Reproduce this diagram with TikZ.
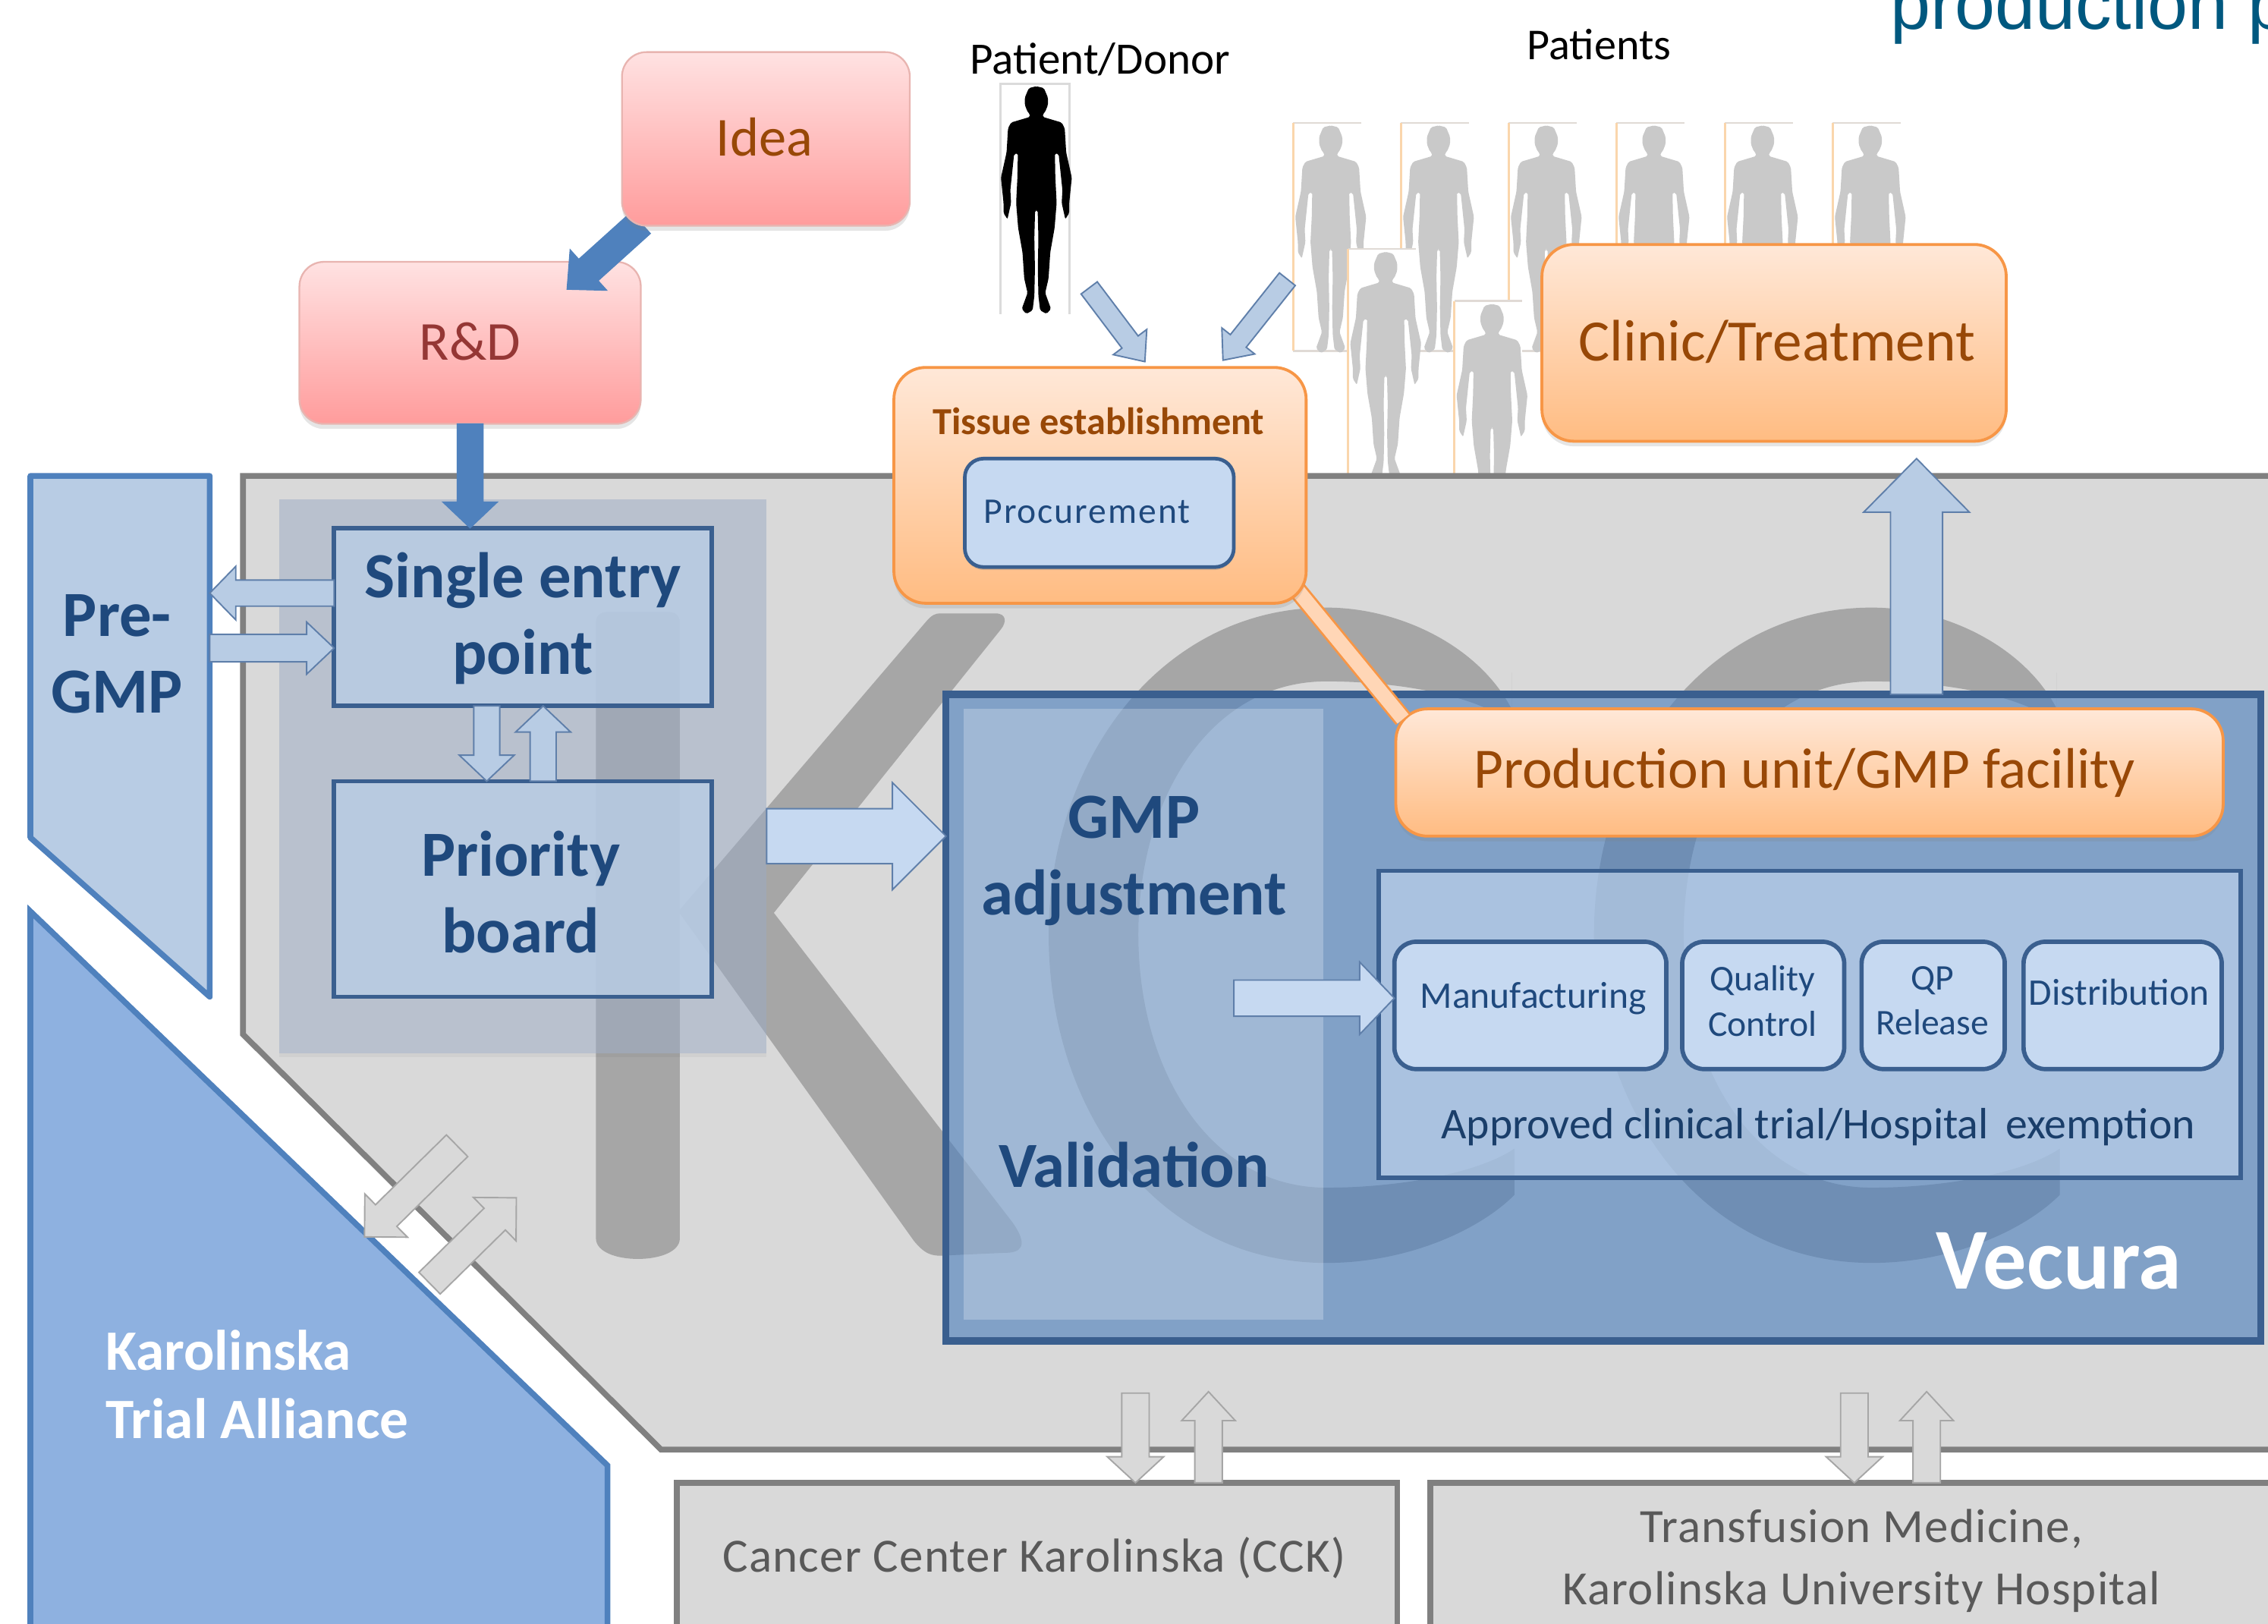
\documentclass[tikz,border=0pt]{standalone}
\usepackage{fontspec}
\setmainfont{Carlito}
\newfontfamily\arialfam{Liberation Sans}
\usetikzlibrary{calc,shadows}
\definecolor{navy}{HTML}{1F497D}
\definecolor{edgeblue}{HTML}{3A5F8F}
\definecolor{midblue}{HTML}{4F81BD}
\definecolor{paleblue}{HTML}{B8CCE4}
\definecolor{lightblue}{HTML}{C6D9F1}
\definecolor{arrowedge}{HTML}{5F7FAA}
\definecolor{brownish}{HTML}{984807}
\definecolor{orangeedge}{HTML}{F79646}
\definecolor{greyfill}{HTML}{D9D9D9}
\definecolor{greyedge}{HTML}{808080}
\definecolor{wmark}{HTML}{A6A6A6}
\definecolor{greytext}{HTML}{595959}
\definecolor{headingblue}{HTML}{00587F}
\definecolor{pinktop}{HTML}{FFE2E2}
\definecolor{pinkbot}{HTML}{FF9C9C}
\definecolor{pinkedge}{HTML}{E8B4B0}
\definecolor{orangetop}{HTML}{FFE8D8}
\definecolor{orangebot}{HTML}{FFBC82}
\definecolor{rdred}{HTML}{953735}
\definecolor{panelblue}{HTML}{9BABC5}
\definecolor{ktablue}{HTML}{8EB1E0}
\definecolor{frametop}{HTML}{E0DAD5}
\definecolor{frameside}{HTML}{FAD6AC}
\newcommand\fsz[2]{\fontsize{#1}{#2}\selectfont}
\newcommand\blockarrow[6]{%
  \coordinate (baA) at #2; \coordinate (baB) at #3;
  \coordinate (baN) at ($(baB)!#6pt!(baA)$);
  \pgfmathsetmacro\baw{#4/2}\pgfmathsetmacro\bah{#5/2}
  \path[#1] ($(baA)!\baw pt!90:(baB)$) -- ($(baN)!\baw pt!90:(baB)$) -- ($(baN)!\bah pt!90:(baB)$) -- (baB)
    -- ($(baN)!\bah pt!-90:(baB)$) -- ($(baN)!\baw pt!-90:(baB)$) -- ($(baA)!\baw pt!-90:(baB)$) -- cycle;
}
\tikzset{
  corners/.style n args={4}{minimum width={#3-#1}, minimum height={#4-#2}, at={({(#1+#3)/2},{(#2+#4)/2})}},
  anynode/.style={inner sep=0pt, outer sep=0pt, align=center, rectangle},
  softshadow/.style={drop shadow={opacity=.2, shadow xshift=0pt, shadow yshift=-3.5pt}},
  pinkbox/.style={anynode, rounded corners=17pt, draw=pinkedge, line width=1.2pt, top color=pinktop, bottom color=pinkbot, softshadow},
  orangebox/.style={anynode, rounded corners=22pt, draw=orangeedge, line width=2pt, top color=orangetop, bottom color=orangebot, softshadow},
  flatbox/.style={anynode, draw=edgeblue, line width=3pt, fill=paleblue, fill opacity=.85},
  boldlabel/.style={anynode, text=navy, font=\bfseries\fsz{44.5}{53}},
  brownlabel/.style={anynode, text=brownish},
  stepbox/.style={anynode, rounded corners=15pt, draw=edgeblue, line width=3pt, fill=lightblue},
  steplabel/.style={anynode, text=navy, font=\fsz{26}{31}},
  greybox/.style={anynode, draw=greyedge, line width=4pt, fill=greyfill},
  greylabel/.style={anynode, text=greytext, font=\fsz{33}{43}\addfontfeature{LetterSpace=2}},
  blockarrowlight/.style={fill=paleblue, draw=arrowedge, line width=1pt},
  blockarrowpale/.style={fill=lightblue, draw=arrowedge, line width=1pt},
  blockarrowdark/.style={fill=midblue, draw=midblue, line width=.6pt},
  blockarrowgrey/.style={fill=greyfill, draw=wmark, line width=1pt},
  person/.pic={
    \foreach \sx in {1,-1}{
    \fill[pic actions, rounded corners=1pt, xscale=\sx] (-.5,0) -- (5.2,1.4) -- (8,8) -- (8,13) -- (6,18) -- (4.4,19.5) -- (4.4,21.3) -- (17.5,25.2) -- (19.6,29.2) -- (20.6,45.8) -- (24.5,63.3) -- (22.7,80.8) -- (22.7,87.8) -- (20,92) -- (17.5,80.8) -- (18,72) -- (15.4,47) -- (12.8,46.5) -- (13.1,63) -- (14,80.8) -- (12.6,98) -- (9.6,115) -- (8.4,133) -- (6.1,143) -- (10.1,154) -- (7,157.5) -- (2.6,155) -- (1.4,145) -- (1,126) -- (1.4,105) -- (.9,86) -- (-.5,86) -- cycle;
    }
  },
  cshape/.pic={
    \fill[wmark] (128,-181) -- (128,-156) .. controls (105,-200) and (50,-226) .. (0,-226)
      .. controls (-115,-226) and (-192,-120) .. (-192,0)
      .. controls (-192,125) and (-115,227) .. (0,227)
      .. controls (55,227) and (105,205) .. (130,180)
      -- (130,148) .. controls (105,165) and (50,175) .. (0,175)
      .. controls (-80,175) and (-130,95) .. (-130,0)
      .. controls (-130,-95) and (-80,-175) .. (0,-175)
      .. controls (50,-175) and (105,-165) .. (128,-146) -- cycle;
  }
}
\begin{document}
\begin{tikzpicture}[x=1pt,y=-1pt]
\useasboundingbox (0,0) rectangle (1568,1122.6);
\clip (0,0) rectangle (1568,1122.6);
\fill[white] (0,0) rectangle (1568,1122.6);

% heading fragment and labels
\node[anynode, anchor=base west, text=headingblue, font=\arialfam\fsz{50}{50}] (heading) at (1307,20) {production p};
\node[anynode, font=\fsz{31}{34}] (donorlabel) at (760.5,41) {Patient/Donor};
\node[anynode, font=\fsz{30.5}{34}] (patientslabel) at (1105.5,31) {Patients};

% donor
\draw[black!14, line width=1.4pt, fill=white] (691.5,217) -- (691.5,58) -- (739.5,58) -- (739.5,217);
\pic[black] at (716.5,59.5) {person};

% patients
\foreach \fx in {894,968.5,1043,1117.5,1192.5,1267}{
  \fill[white] (\fx,85) rectangle ++(47,157.5);
  \draw[frametop, line width=1.3pt] (\fx,85) -- ++(47,0);
  \draw[frametop, line width=1.3pt] (\fx,242.5) -- ++(47,0);
  \draw[frameside, line width=1.5pt] (\fx,85) -- ++(0,157.5);
  \pic[black!21] at (\fx+26,86.6) {person};
}
\foreach \fx/\fy in {932/172,1005.5/208}{
  \fill[white] (\fx,\fy) rectangle ++(47,170);
  \draw[frametop, line width=1.3pt] (\fx,\fy) -- ++(47,0);
  \draw[frameside, line width=1.5pt] (\fx,\fy) -- ++(0,170);
  \pic[black!21] at (\fx+26,\fy+2) {person};
}

% main grey region with watermark
\path[fill=greyfill, draw=greyedge, line width=4pt] (168,329) -- (1575,329) -- (1575,1002) -- (457,1002) -- (168,715) -- cycle;
\fill[wmark] (412,430) .. controls (412,425) and (416,423) .. (420,423) -- (462,423) .. controls (466,423) and (470,425) .. (470,430) -- (470,856) .. controls (470,875) and (412,875) .. (412,856) -- cycle;
\fill[wmark] (469,630) -- (640,430) .. controls (644,425) and (647,424) .. (650,424) -- (688,424) .. controls (696,424) and (696,430) .. (692,435) -- (535,631) -- (700,845) .. controls (712,862) and (705,866) .. (695,866) -- (650,868) .. controls (642,868) and (638,865) .. (632,858) -- cycle;
\pic at (917,646) {cshape};
\pic at (1294,646) {cshape};

% translucent panel
\fill[panelblue, fill opacity=.5] (193,345) rectangle (530,728);
\fill[black, opacity=.04] (193,728) rectangle (530,731);

% side panels
\path[fill=paleblue, draw=midblue, line width=4pt, line join=round] (21,329) -- (145,329) -- (145,689) -- (21,579) -- cycle;
\node[boldlabel] (pregmp) at (81,452) {Pre-\\GMP};
\coordinate (pregmpa) at (145,410);
\coordinate (pregmpb) at (145,448);
\path[fill=ktablue, draw=midblue, line width=4pt] (21,630) -- (420,1013) -- (420,1130) -- (21,1130) -- cycle;
\node[anynode, anchor=west, text=white, align=left, font=\bfseries\fsz{39.5}{47}] (kta) at (73,957) {Karolinska\\Trial Alliance};
\coordinate (ktaa) at (252,855);
\coordinate (ktab) at (297,887);
\coordinate (maina) at (316,792);
\coordinate (mainb) at (357,828);

% entry boxes
\node[flatbox, corners={231}{365}{492}{488}] (sep) {};
\node[boldlabel] (seplabel) at (361.5,427.5) {Single entry\\point};
\node[flatbox, corners={231}{540}{492}{689}] (board) {};
\node[boldlabel] (boardlabel) at (360,616.5) {Priority\\board};

% Vecura
\path[fill=midblue, fill opacity=.63, draw=edgeblue, draw opacity=1, line width=5pt] (654,480) rectangle (1563,927);
\coordinate (vecuraw) at (654,578);
\coordinate (vecuran) at (1325,480);
\fill[white, opacity=.25] (666,490) rectangle (915,912);
\node[boldlabel] (gmpadj) at (784,595) {GMP\\adjustment};
\node[boldlabel] (validation) at (784,805) {Validation};
\node[anynode, text=white, font=\bfseries\fsz{60}{64}] (vecura) at (1423.5,872) {Vecura};
\coordinate (gmparrow) at (853,690);

\path[fill=lightblue, fill opacity=.6, draw=edgeblue, draw opacity=1, line width=3pt] (953,602) rectangle (1549,814);
\node[anynode, text=navy!85!black, font=\fsz{30.3}{36}] (approved) at (1257,779) {Approved clinical trial/Hospital\, exemption};
\node[stepbox, corners={964}{651}{1152}{739}] (manu) {};
\node[steplabel] (manulabel) at (1060,690) {Manufacturing};
\node[stepbox, corners={1163}{651}{1275}{739}] (qc) {};
\node[steplabel, font=\fsz{25}{31}] (qclabel) at (1218.5,692) {Quality\\Control};
\node[stepbox, corners={1287}{651}{1386}{739}] (qp) {};
\node[steplabel, font=\fsz{25}{31}] (qplabel) at (1336,692) {QP\\Release};
\node[stepbox, corners={1399}{651}{1536}{739}] (dist) {};
\node[steplabel] (distlabel) at (1465,686) {Distribution};

% orange boxes and link
\node[orangebox, corners={965}{490}{1537}{578}] (prod) {};
\node[brownlabel, font=\fsz{39.5}{44}] (prodlabel) at (1247.5,534) {Production unit/GMP facility};
\coordinate (linka) at (897,408);
\coordinate (linkb) at (970,497);
\draw[orangeedge, line width=13pt] (linka) -- (linkb);
\draw[orangetop!60!orangebot, line width=10pt] (linka) -- (linkb);
\node[orangebox, corners={618}{254}{903}{417}] (tissue) {};
\node[brownlabel, font=\bfseries\fsz{26.4}{30}] (tissuelabel) at (759.5,291) {Tissue establishment};
\node[stepbox, corners={667}{317}{853}{392}, rounded corners=13pt, line width=2.5pt, drop shadow={opacity=.3, shadow xshift=0pt, shadow yshift=-2pt}] (proc) {};
\node[anynode, text=navy, font=\fsz{25}{31}\addfontfeature{LetterSpace=4}] (proclabel) at (751.5,354) {Procurement};
\node[orangebox, corners={1066}{169}{1387}{305}] (clinic) {};
\node[brownlabel, font=\fsz{40.5}{46}] (cliniclabel) at (1228.5,236) {Clinic/Treatment};

% grey bottom boxes
\node[greybox, corners={468}{1025}{966}{1160}] (cck) {};
\node[greylabel] (ccklabel) at (715,1077) {Cancer Center Karolinska (CCK)};
\node[greybox, corners={989}{1025}{1590}{1160}] (tm) {};
\node[greylabel] (tmlabel) at (1287,1079) {Transfusion Medicine,\\Karolinska University Hospital};

% pink boxes and block arrows
\node[pinkbox, corners={207}{181}{443}{293}] (rd) {};
\node[anynode, text=rdred, font=\fsz{38}{46}] (rdlabel) at (325,236) {R\&D};
\blockarrow{blockarrowdark}{(443,154)}{(392,200)}{20}{38}{20}
\node[pinkbox, corners={430}{36}{629}{156}] (idea) {};
\node[brownlabel, font=\fsz{38}{46}] (idealabel) at (528.5,95) {Idea};
\blockarrow{blockarrowdark}{(rd.south)}{(sep.north -| rd.south)}{18}{38}{18}
\blockarrow{blockarrowlight}{($(sep.west)+(0,-16.5)$)}{(pregmpa)}{18}{37}{18}
\blockarrow{blockarrowlight}{(pregmpb)}{($(sep.west)+(0,21.5)$)}{19}{36}{19}
\blockarrow{blockarrowlight}{($(sep.south)+(-25,0)$)}{($(board.north)+(-25,0)$)}{18}{38}{18}
\blockarrow{blockarrowlight}{($(board.north)+(14,0)$)}{($(sep.south)+(14,0)$)}{18}{38}{18}
\blockarrow{blockarrowpale}{(530,578)}{(vecuraw)}{38}{74}{37}
\blockarrow{blockarrowpale}{(gmparrow)}{($(manu.west)+(0,-5)$)}{25}{50}{24}
\blockarrow{blockarrowlight}{(vecuran)}{($(clinic.south)+(98.5,12)$)}{36}{73}{37}
\blockarrow{blockarrowlight}{(753,199)}{($(tissue.north)+(31,-4)$)}{14}{29}{17}
\blockarrow{blockarrowlight}{(890,193)}{($(tissue.north)+(85,-5)$)}{14}{29}{17}
\blockarrow{blockarrowgrey}{(maina)}{(ktaa)}{21}{42}{21}
\blockarrow{blockarrowgrey}{(ktab)}{(mainb)}{21}{42}{21}
\blockarrow{blockarrowgrey}{(785,963)}{($(cck.north)+(68,0)$)}{19}{39}{18}
\blockarrow{blockarrowgrey}{($(cck.north)+(118.5,0)$)}{(835.5,962)}{19}{37}{20}
\blockarrow{blockarrowgrey}{(1282,963)}{($(tm.north)+(-7.5,0)$)}{19}{39}{18}
\blockarrow{blockarrowgrey}{($(tm.north)+(42.5,0)$)}{(1332,962)}{19}{37}{20}
\end{tikzpicture}
\end{document}
